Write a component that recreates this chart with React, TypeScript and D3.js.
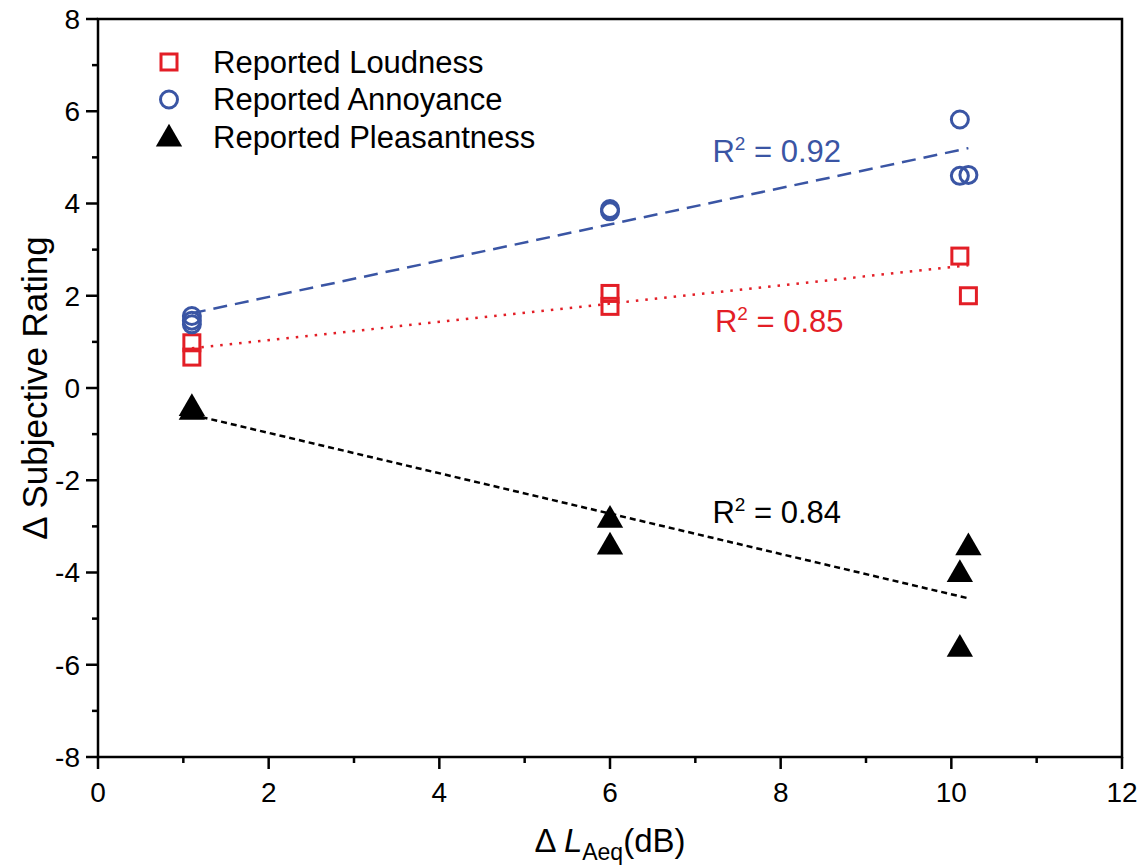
import React from "react";
import * as d3 from "d3";

// ---- Data ----
const loudnessX = [1.1, 1.1, 6.0, 6.0, 10.1, 10.2];
const loudnessY = [0.98, 0.67, 2.05, 1.77, 2.86, 2.0];

const annoyanceX = [1.1, 1.1, 1.1, 6.0, 6.0, 10.1, 10.1, 10.2];
const annoyanceY = [1.56, 1.46, 1.38, 3.88, 3.83, 5.82, 4.6, 4.62];

const pleasantnessX = [1.1, 1.1, 6.0, 6.0, 10.1, 10.2, 10.1];
const pleasantnessY = [-0.4, -0.48, -2.82, -3.4, -4.0, -3.42, -5.62];

// Fitted regression lines (endpoints over the data range)
const fitX = [1.1, 10.2];
const loudnessFit = [0.86, 2.66];
const annoyanceFit = [1.62, 5.2];
const pleasantnessFit = [-0.58, -4.56];

const r2Labels = ["0.92", "0.85", "0.84"];

const xTicks = [0, 2, 4, 6, 8, 10, 12];
const yTicks = [-8, -6, -4, -2, 0, 2, 4, 6, 8];
const xMinorTicks = [1, 3, 5, 7, 9, 11];
const yMinorTicks = [-7, -5, -3, -1, 1, 3, 5, 7];

const legendLabels = ["Reported Loudness", "Reported Annoyance", "Reported Pleasantness"];

const RED = "#e31e26";
const BLUE = "#3a55a4";
const BLACK = "#000000";

const W = 1143;
const H = 865;
const M = { left: 98, right: 21, top: 19, bottom: 108 };
const FONT = "'Liberation Sans', Arial, Helvetica, sans-serif";

export default function App() {
  const x = d3.scaleLinear().domain([0, 12]).range([M.left, W - M.right]);
  const y = d3.scaleLinear().domain([-8, 8]).range([H - M.bottom, M.top]);

  const line = d3
    .line<[number, number]>()
    .x((d) => x(d[0]))
    .y((d) => y(d[1]));

  const pairs = (xs: number[], ys: number[]) => xs.map((v, i) => [v, ys[i]] as [number, number]);

  const sq = 16;
  const circR = 8.5;
  const tri = d3.symbol().type(d3.symbolTriangle).size(300)() as string;

  const Square = ({ cx, cy }: { cx: number; cy: number }) => (
    <rect x={cx - sq / 2} y={cy - sq / 2} width={sq} height={sq} fill="none" stroke={RED} strokeWidth={3} />
  );
  const Circle = ({ cx, cy }: { cx: number; cy: number }) => (
    <circle cx={cx} cy={cy} r={circR} fill="none" stroke={BLUE} strokeWidth={3} />
  );
  const Tri = ({ cx, cy }: { cx: number; cy: number }) => (
    <path d={tri} transform={`translate(${cx},${cy + 2})`} fill={BLACK} />
  );

  const x0 = M.left;
  const x1 = W - M.right;
  const y0 = H - M.bottom;
  const y1 = M.top;

  const labelPos = [
    { xv: 7.2, yv: 4.9, color: BLUE, text: r2Labels[0] },
    { xv: 7.23, yv: 1.21, color: RED, text: r2Labels[1] },
    { xv: 7.2, yv: -2.93, color: BLACK, text: r2Labels[2] },
  ];

  return (
    <svg width={W} height={H} style={{ position: "absolute", left: 0, top: 0, background: "#fff" }} fontFamily={FONT}>
      <rect x={0} y={0} width={W} height={H} fill="#fff" />

      {/* fit lines */}
      <path d={line(pairs(fitX, annoyanceFit)) as string} stroke={BLUE} strokeWidth={2.5} fill="none" strokeDasharray="14 8" />
      <path d={line(pairs(fitX, loudnessFit)) as string} stroke={RED} strokeWidth={2.5} fill="none" strokeDasharray="2.5 7" />
      <path d={line(pairs(fitX, pleasantnessFit)) as string} stroke={BLACK} strokeWidth={2.5} fill="none" strokeDasharray="6 4" />

      {/* points */}
      {pairs(loudnessX, loudnessY).map((d, i) => (
        <Square key={"l" + i} cx={x(d[0])} cy={y(d[1])} />
      ))}
      {pairs(annoyanceX, annoyanceY).map((d, i) => (
        <Circle key={"a" + i} cx={x(d[0])} cy={y(d[1])} />
      ))}
      {pairs(pleasantnessX, pleasantnessY).map((d, i) => (
        <Tri key={"p" + i} cx={x(d[0])} cy={y(d[1])} />
      ))}

      {/* R2 labels */}
      {labelPos.map((l, i) => (
        <text key={"r" + i} x={x(l.xv)} y={y(l.yv)} fill={l.color} fontSize={31}>
          R<tspan fontSize={19} dy={-12}>2</tspan>
          <tspan dy={12}> = {l.text}</tspan>
        </text>
      ))}

      {/* axes frame */}
      <rect x={x0} y={y1} width={x1 - x0} height={y0 - y1} fill="none" stroke="#000" strokeWidth={2.5} />

      {/* x ticks */}
      {xTicks.map((t) => (
        <g key={"xt" + t}>
          <line x1={x(t)} x2={x(t)} y1={y0} y2={y0 + 12} stroke="#000" strokeWidth={2.5} />
          <text x={x(t)} y={y0 + 45} textAnchor="middle" fontSize={28}>
            {t}
          </text>
        </g>
      ))}
      {xMinorTicks.map((t) => (
        <line key={"xm" + t} x1={x(t)} x2={x(t)} y1={y0} y2={y0 + 6} stroke="#000" strokeWidth={2.5} />
      ))}

      {/* y ticks */}
      {yTicks.map((t) => (
        <g key={"yt" + t}>
          <line x1={x0 - 12} x2={x0} y1={y(t)} y2={y(t)} stroke="#000" strokeWidth={2.5} />
          <text x={x0 - 18} y={y(t)} dy="0.35em" textAnchor="end" fontSize={28}>
            {t}
          </text>
        </g>
      ))}
      {yMinorTicks.map((t) => (
        <line key={"ym" + t} x1={x0 - 6} x2={x0} y1={y(t)} y2={y(t)} stroke="#000" strokeWidth={2.5} />
      ))}

      {/* axis titles */}
      <text transform={`translate(47,${(y0 + y1) / 2}) rotate(-90)`} textAnchor="middle" fontSize={35}>
        Δ Subjective Rating
      </text>
      <text x={(x0 + x1) / 2} y={852} textAnchor="middle" fontSize={33}>
        Δ <tspan fontStyle="italic">L</tspan>
        <tspan fontSize={23} dy={8}>Aeq</tspan>
        <tspan dy={-8}>(dB)</tspan>
      </text>

      {/* legend */}
      {legendLabels.map((lab, i) => {
        const cy = 62 + i * 37.5;
        return (
          <g key={"lg" + i}>
            {i === 0 && <Square cx={169} cy={cy} />}
            {i === 1 && <Circle cx={169} cy={cy} />}
            {i === 2 && <Tri cx={169} cy={cy} />}
            <text x={213} y={cy} dy="0.35em" fontSize={31}>
              {lab}
            </text>
          </g>
        );
      })}
    </svg>
  );
}
